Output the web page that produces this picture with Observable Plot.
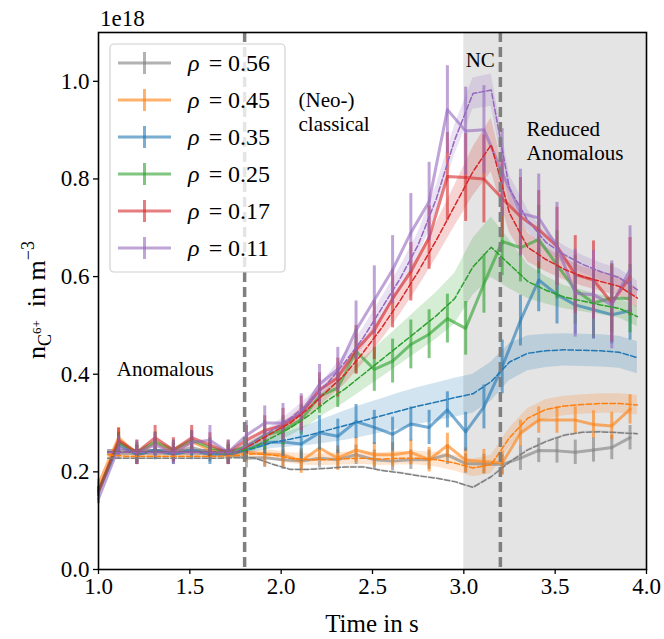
<!DOCTYPE html>
<html><head><meta charset="utf-8">
<script src="https://cdn.jsdelivr.net/npm/d3@7"></script>
<script src="https://cdn.jsdelivr.net/npm/@observablehq/plot@0.6"></script>
<style>body{margin:0;background:#fff}</style>
</head><body><div id="chart"></div>
<script>
// measurement times (s)
const times = [1.00, 1.11, 1.21, 1.31, 1.41, 1.51, 1.61, 1.71, 1.81, 1.91, 2.01, 2.11, 2.21, 2.31, 2.41, 2.51, 2.61, 2.71, 2.81, 2.91, 3.01, 3.11, 3.21, 3.31, 3.41, 3.51, 3.61, 3.71, 3.81, 3.91];
// model times (s)
const modelTimes = [1.05, 1.15, 1.25, 1.35, 1.45, 1.55, 1.65, 1.75, 1.85, 1.95, 2.05, 2.15, 2.25, 2.35, 2.45, 2.55, 2.65, 2.75, 2.85, 2.95, 3.05, 3.15, 3.25, 3.35, 3.45, 3.55, 3.65, 3.75, 3.85, 3.95];

const rhoLabels = ["0.56", "0.45", "0.35", "0.25", "0.17", "0.11"];
const colors = ["#7f7f7f", "#ff7f0e", "#1f77b4", "#2ca02c", "#d62728", "#9467bd"];

// density in 1e18 m^-3
const meas056 = [0.16, 0.262, 0.235, 0.245, 0.24, 0.25, 0.24, 0.235, 0.228, 0.229, 0.225, 0.222, 0.228, 0.225, 0.235, 0.225, 0.222, 0.225, 0.225, 0.235, 0.217, 0.216, 0.215, 0.228, 0.244, 0.243, 0.24, 0.245, 0.25, 0.27];
const err056 = [0.01, 0.02, 0.02, 0.02, 0.02, 0.02, 0.02, 0.02, 0.02, 0.02, 0.02, 0.02, 0.02, 0.02, 0.02, 0.02, 0.02, 0.02, 0.02, 0.02, 0.02, 0.02, 0.02, 0.025, 0.025, 0.025, 0.025, 0.025, 0.025, 0.025];
const model056 = [0.228, 0.228, 0.228, 0.228, 0.228, 0.228, 0.228, 0.229, 0.229, 0.216, 0.205, 0.205, 0.207, 0.21, 0.21, 0.203, 0.198, 0.192, 0.187, 0.18, 0.168, 0.19, 0.22, 0.245, 0.262, 0.275, 0.281, 0.282, 0.28, 0.278];
const band056 = [0.002, 0.002, 0.002, 0.002, 0.002, 0.002, 0.002, 0.002, 0.002, 0.002, 0.002, 0.002, 0.002, 0.002, 0.002, 0.002, 0.002, 0.002, 0.002, 0.002, 0.002, 0.002, 0.002, 0.002, 0.002, 0.002, 0.002, 0.002, 0.002, 0.002];

const meas045 = [0.175, 0.27, 0.235, 0.26, 0.24, 0.262, 0.245, 0.235, 0.24, 0.237, 0.235, 0.222, 0.249, 0.228, 0.245, 0.235, 0.235, 0.24, 0.225, 0.254, 0.224, 0.221, 0.218, 0.279, 0.306, 0.306, 0.306, 0.297, 0.294, 0.328];
const err045 = [0.01, 0.02, 0.02, 0.02, 0.02, 0.02, 0.02, 0.02, 0.02, 0.025, 0.025, 0.025, 0.025, 0.025, 0.025, 0.025, 0.025, 0.025, 0.025, 0.025, 0.025, 0.025, 0.025, 0.027, 0.027, 0.027, 0.027, 0.028, 0.028, 0.03];
const model045 = [0.235, 0.232, 0.232, 0.232, 0.232, 0.232, 0.232, 0.233, 0.237, 0.235, 0.228, 0.225, 0.225, 0.227, 0.228, 0.226, 0.228, 0.228, 0.225, 0.218, 0.208, 0.215, 0.27, 0.31, 0.328, 0.335, 0.338, 0.34, 0.34, 0.337];
const band045 = [0.006, 0.006, 0.006, 0.006, 0.006, 0.006, 0.006, 0.006, 0.008, 0.01, 0.011, 0.012, 0.012, 0.013, 0.013, 0.013, 0.014, 0.014, 0.015, 0.016, 0.018, 0.019, 0.02, 0.02, 0.02, 0.02, 0.02, 0.02, 0.02, 0.02];

const meas035 = [0.16, 0.255, 0.235, 0.245, 0.235, 0.245, 0.235, 0.235, 0.245, 0.26, 0.261, 0.257, 0.28, 0.273, 0.303, 0.291, 0.277, 0.298, 0.291, 0.327, 0.282, 0.333, 0.415, 0.51, 0.593, 0.563, 0.542, 0.532, 0.522, 0.53];
const err035 = [0.01, 0.02, 0.02, 0.02, 0.02, 0.02, 0.02, 0.02, 0.02, 0.025, 0.03, 0.035, 0.035, 0.035, 0.035, 0.035, 0.035, 0.035, 0.035, 0.037, 0.04, 0.045, 0.055, 0.052, 0.065, 0.06, 0.06, 0.06, 0.06, 0.06];
const model035 = [0.24, 0.24, 0.24, 0.24, 0.24, 0.24, 0.24, 0.24, 0.248, 0.26, 0.267, 0.275, 0.285, 0.295, 0.305, 0.315, 0.325, 0.335, 0.343, 0.352, 0.36, 0.385, 0.425, 0.443, 0.448, 0.45, 0.449, 0.448, 0.445, 0.434];
const band035 = [0.006, 0.006, 0.006, 0.006, 0.006, 0.006, 0.006, 0.006, 0.008, 0.012, 0.016, 0.021, 0.026, 0.03, 0.033, 0.035, 0.037, 0.038, 0.039, 0.04, 0.04, 0.04, 0.038, 0.036, 0.034, 0.033, 0.033, 0.033, 0.033, 0.033];

const meas025 = [0.16, 0.26, 0.24, 0.262, 0.245, 0.265, 0.25, 0.24, 0.252, 0.275, 0.285, 0.307, 0.355, 0.372, 0.447, 0.41, 0.427, 0.461, 0.482, 0.514, 0.494, 0.585, 0.672, 0.659, 0.676, 0.624, 0.573, 0.546, 0.556, 0.555];
const err025 = [0.01, 0.02, 0.02, 0.02, 0.02, 0.02, 0.02, 0.02, 0.02, 0.03, 0.03, 0.03, 0.035, 0.04, 0.045, 0.045, 0.045, 0.05, 0.05, 0.05, 0.055, 0.06, 0.07, 0.07, 0.07, 0.07, 0.07, 0.07, 0.07, 0.07];
const model025 = [0.24, 0.24, 0.24, 0.24, 0.24, 0.24, 0.24, 0.24, 0.25, 0.27, 0.29, 0.315, 0.345, 0.37, 0.4, 0.43, 0.46, 0.49, 0.52, 0.555, 0.62, 0.66, 0.625, 0.59, 0.572, 0.558, 0.55, 0.542, 0.535, 0.518];
const band025 = [0.006, 0.006, 0.006, 0.006, 0.006, 0.006, 0.006, 0.006, 0.008, 0.012, 0.016, 0.02, 0.024, 0.028, 0.032, 0.036, 0.04, 0.044, 0.048, 0.052, 0.058, 0.062, 0.05, 0.035, 0.028, 0.024, 0.022, 0.02, 0.02, 0.02];

const meas017 = [0.16, 0.265, 0.24, 0.27, 0.245, 0.27, 0.255, 0.24, 0.265, 0.285, 0.295, 0.32, 0.368, 0.393, 0.45, 0.49, 0.555, 0.61, 0.68, 0.805, 0.803, 0.8, 0.76, 0.723, 0.696, 0.662, 0.604, 0.593, 0.546, 0.6];
const err017 = [0.01, 0.025, 0.025, 0.025, 0.025, 0.025, 0.025, 0.025, 0.03, 0.03, 0.035, 0.035, 0.035, 0.04, 0.05, 0.06, 0.06, 0.06, 0.065, 0.09, 0.09, 0.09, 0.08, 0.08, 0.08, 0.08, 0.08, 0.08, 0.08, 0.08];
const model017 = [0.24, 0.24, 0.24, 0.24, 0.24, 0.24, 0.24, 0.24, 0.258, 0.28, 0.3, 0.33, 0.365, 0.4, 0.445, 0.495, 0.55, 0.61, 0.675, 0.745, 0.815, 0.87, 0.73, 0.66, 0.635, 0.615, 0.6, 0.59, 0.58, 0.556];
const band017 = [0.006, 0.006, 0.006, 0.006, 0.006, 0.006, 0.006, 0.006, 0.008, 0.01, 0.012, 0.015, 0.018, 0.02, 0.022, 0.025, 0.028, 0.032, 0.036, 0.042, 0.05, 0.055, 0.04, 0.03, 0.025, 0.022, 0.02, 0.02, 0.02, 0.02];

const meas011 = [0.145, 0.25, 0.24, 0.255, 0.24, 0.26, 0.265, 0.24, 0.275, 0.3, 0.3, 0.32, 0.38, 0.41, 0.49, 0.552, 0.614, 0.69, 0.754, 0.942, 0.898, 0.901, 0.813, 0.73, 0.72, 0.662, 0.566, 0.563, 0.542, 0.614];
const err011 = [0.01, 0.025, 0.025, 0.025, 0.025, 0.025, 0.03, 0.025, 0.03, 0.035, 0.04, 0.04, 0.04, 0.045, 0.06, 0.07, 0.07, 0.08, 0.08, 0.09, 0.09, 0.09, 0.09, 0.09, 0.09, 0.09, 0.09, 0.09, 0.09, 0.09];
const model011 = [0.24, 0.24, 0.24, 0.24, 0.24, 0.24, 0.24, 0.24, 0.262, 0.285, 0.31, 0.34, 0.38, 0.425, 0.475, 0.535, 0.595, 0.665, 0.76, 0.88, 0.975, 0.982, 0.78, 0.715, 0.67, 0.645, 0.625, 0.61, 0.598, 0.573];
const band011 = [0.006, 0.006, 0.006, 0.006, 0.006, 0.006, 0.006, 0.006, 0.008, 0.01, 0.012, 0.014, 0.016, 0.018, 0.02, 0.022, 0.024, 0.026, 0.028, 0.03, 0.032, 0.033, 0.028, 0.022, 0.02, 0.018, 0.018, 0.018, 0.018, 0.018];

const xTicks = [1.0, 1.5, 2.0, 2.5, 3.0, 3.5, 4.0];
const yTicks = [0.0, 0.2, 0.4, 0.6, 0.8, 1.0];
const shaded = [{x1: 3.0, x2: 4.0}];
const phaseLines = [1.8, 3.2];
const annotations = [
  {label: "Anomalous", t: 1.1, v: 0.413},
  {label: "(Neo-)\nclassical", t: 2.095, v: 0.938},
  {label: "NC", t: 3.01, v: 1.045},
  {label: "Reduced\nAnomalous", t: 3.343, v: 0.88}
];

const measList = [meas056, meas045, meas035, meas025, meas017, meas011];
const errList = [err056, err045, err035, err025, err017, err011];
const modelList = [model056, model045, model035, model025, model017, model011];
const bandList = [band056, band045, band035, band025, band017, band011];

const series = rhoLabels.map((rho, k) => ({
  rho, color: colors[k],
  meas: times.map((t, i) => ({t, v: measList[k][i], lo: measList[k][i] - errList[k][i], hi: measList[k][i] + errList[k][i]})),
  model: modelTimes.map((t, i) => ({t, v: modelList[k][i], lo: modelList[k][i] - bandList[k][i], hi: modelList[k][i] + bandList[k][i]}))
}));

const FONT = "Liberation Serif, Times New Roman, serif";
const TICKFS = 23;
const marks = [];
marks.push(Plot.rect(shaded, {x1: "x1", x2: "x2", fill: "#e4e4e4"}));
for (const s of series) {
  marks.push(Plot.areaY(s.model, {x: "t", y1: "lo", y2: "hi", fill: s.color, fillOpacity: 0.2, curve: "linear"}));
}
for (const s of series) {
  marks.push(Plot.ruleX(s.meas, {x: "t", y1: "lo", y2: "hi", stroke: s.color, strokeWidth: 3, strokeOpacity: 0.6}));
  marks.push(Plot.line(s.meas, {x: "t", y: "v", stroke: s.color, strokeWidth: 3, strokeOpacity: 0.6}));
}
for (const s of series) {
  marks.push(Plot.line(s.model, {x: "t", y: "v", stroke: s.color, strokeWidth: 1.5, strokeDasharray: "5.5,2.4"}));
}
marks.push(Plot.ruleX(phaseLines, {stroke: "#7f7f7f", strokeWidth: 3.5, strokeDasharray: "10,5"}));
marks.push(Plot.text(annotations, {x: "t", y: "v", text: "label", textAnchor: "start", lineAnchor: "middle", lineHeight: 1.15, fontSize: 21, fill: "black"}));
marks.push(Plot.axisX({ticks: xTicks, tickFormat: d => d.toFixed(1), tickSize: 5, tickPadding: 3, fontSize: TICKFS, label: null, stroke: "black", strokeWidth: 1.3}));
marks.push(Plot.axisY({ticks: yTicks, tickFormat: d => d.toFixed(1), tickSize: 5, tickPadding: 4, fontSize: TICKFS, label: null, stroke: "black", strokeWidth: 1.3}));
marks.push(Plot.frame({stroke: "black", strokeWidth: 1.6}));

const chart = Plot.plot({
  width: 664, height: 639,
  marginLeft: 98, marginRight: 18, marginTop: 32, marginBottom: 70,
  style: {fontFamily: FONT, fontSize: "21px", background: "white", color: "black"},
  x: {domain: [1, 4]},
  y: {domain: [0, 1.1]},
  marks
});
document.getElementById("chart").appendChild(chart);

const svg = d3.select(chart);
const addText = (sel, x, y, size, anchor) => sel.append("text").attr("x", x).attr("y", y)
  .attr("font-family", FONT).attr("font-size", size).attr("text-anchor", anchor).attr("fill", "black");
// offset text
addText(svg, 100, 26, TICKFS, "start").text("1e18");
// x label
addText(svg, 372, 632, 25, "middle").text("Time in s");
// y label
const yl = svg.append("text").attr("transform", "translate(45,300) rotate(-90)").attr("text-anchor", "middle")
  .attr("font-family", FONT).attr("font-size", 26).attr("fill", "black");
yl.append("tspan").text("n");
yl.append("tspan").attr("font-size", 18).attr("dy", 6).text("C");
yl.append("tspan").attr("font-size", 13).attr("dy", -10).text("6+");
yl.append("tspan").attr("font-size", 26).attr("dy", 4).text("\u2002in m");
yl.append("tspan").attr("font-size", 18).attr("dy", -11).text("\u22123");

// legend
const lg = svg.append("g");
lg.append("rect").attr("x", 110).attr("y", 44).attr("width", 175).attr("height", 228).attr("rx", 4)
  .attr("fill", "white").attr("fill-opacity", 0.8).attr("stroke", "#d0d0d0").attr("stroke-width", 1.2);
series.forEach((s, i) => {
  const cy = 63 + i * 37;
  lg.append("line").attr("x1", 118).attr("x2", 171).attr("y1", cy).attr("y2", cy).attr("stroke", s.color).attr("stroke-width", 3).attr("stroke-opacity", 0.6);
  lg.append("line").attr("x1", 144.5).attr("x2", 144.5).attr("y1", cy - 11).attr("y2", cy + 11).attr("stroke", s.color).attr("stroke-width", 3).attr("stroke-opacity", 0.6);
  const base = cy + 8;
  addText(lg, 188, base, 24, "start").attr("font-style", "italic").text("\u03c1");
  addText(lg, 215.5, base, 24, "middle").text("=");
  addText(lg, 228, base, 24, "start").text(s.rho);
});
</script>
</body></html>
